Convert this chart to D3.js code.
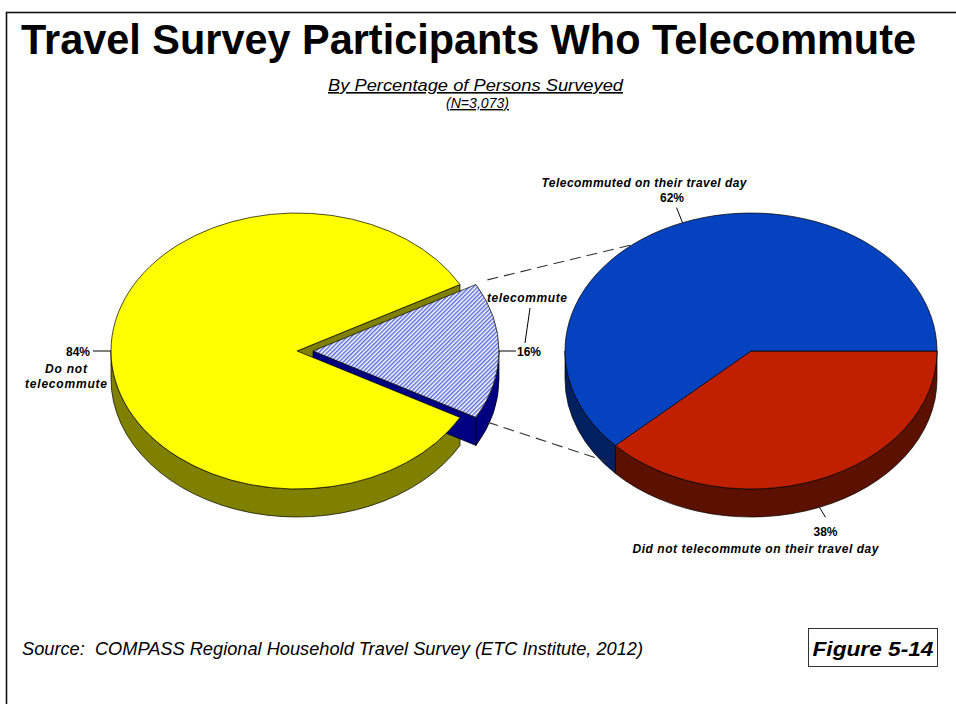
<!DOCTYPE html>
<html>
<head>
<meta charset="utf-8">
<script src="https://cdn.jsdelivr.net/npm/d3@7"></script>
<style>
  html, body { margin: 0; padding: 0; background: #fff; }
  svg { display: block; font-family: "Liberation Sans", Arial, sans-serif; }
</style>
</head>
<body>
<script>
// Survey shares: all respondents, split by whether they telecommute
const mainCategories = ["telecommute", "Do not telecommute"];
const mainValues = [16, 84];

// Telecommuters, split by whether they telecommuted on their travel day
const subCategories = ["Did not telecommute on their travel day", "Telecommuted on their travel day"];
const subValues = [38, 62];

const titleText = "Travel Survey Participants Who Telecommute";
const subtitleText = "By Percentage of Persons Surveyed";
const sampleText = "(N=3,073)";
const sourceText = "Source:  COMPASS Regional Household Travel Survey (ETC Institute, 2012)";
const figureText = "Figure 5-14";

const W = 956, H = 704;
const FONT = "'Liberation Sans', Arial, sans-serif";

const svg = d3.select("body").append("svg").attr("width", W).attr("height", H);

// diagonal blue hatching for the exploded wedge
const defs = svg.append("defs");
const hatch = defs.append("pattern")
  .attr("id", "hatch").attr("patternUnits", "userSpaceOnUse")
  .attr("width", 3).attr("height", 3).attr("patternTransform", "rotate(45)");
hatch.append("rect").attr("width", 3).attr("height", 3).attr("fill", "#ffffff");
hatch.append("line").attr("x1", 0.8).attr("y1", 0).attr("x2", 0.8).attr("y2", 3)
  .attr("stroke", "#3046d6").attr("stroke-width", 1.2);

// outer frame (runs off the right and bottom of the page)
svg.append("rect").attr("x", 6.5).attr("y", 12.5).attr("width", 1200).attr("height", 1200)
  .attr("fill", "none").attr("stroke", "#111").attr("stroke-width", 1.6);

// ---------- 3D pie helpers ----------
function geo(cx, cy, rx, ry, depth) {
  const pt = (t, k = 1, dy = 0) => [cx + k * rx * Math.cos(t), cy + k * ry * Math.sin(t) + dy];
  return { cx, cy, rx, ry, depth, pt };
}
function topPath(g, t0, t1) {
  const p0 = g.pt(t0), p1 = g.pt(t1);
  const large = (t1 - t0) > Math.PI ? 1 : 0;
  return `M${g.cx},${g.cy}L${p0}A${g.rx},${g.ry} 0 ${large} 1 ${p1}Z`;
}
function wallPaths(g, t0, t1) {
  const out = [];
  for (const k of [-2, 0, 2]) {
    const a = Math.max(t0, k * Math.PI), b = Math.min(t1, (k + 1) * Math.PI);
    if (b > a) {
      const p0 = g.pt(a), p1 = g.pt(b), q1 = g.pt(b, 1, g.depth), q0 = g.pt(a, 1, g.depth);
      out.push(`M${p0}A${g.rx},${g.ry} 0 0 1 ${p1}L${q1}A${g.rx},${g.ry} 0 0 0 ${q0}Z`);
    }
  }
  return out;
}
function facePath(g, t) {
  const p = g.pt(t), q = g.pt(t, 1, g.depth);
  return `M${g.cx},${g.cy}L${p}L${q}L${g.cx},${g.cy + g.depth}Z`;
}
// d3.pie measures from 12 o'clock; convert to screen angle from 3 o'clock
const toT = a => a - Math.PI / 2;

const RX = 186, RY = 138, DEPTH = 28;
const layer = svg.append("g");
const edge = { stroke: "#000", "stroke-width": 0.7, "stroke-linejoin": "round" };
function draw(d, fill) {
  const p = layer.append("path").attr("d", d).attr("fill", fill);
  Object.entries(edge).forEach(([k, v]) => p.attr(k, v));
  return p;
}

// ---------- left pie (exploded wedge) ----------
const mainTotal = d3.sum(mainValues);
const mainStart = Math.PI / 2 - Math.PI * mainValues[0] / mainTotal;
const mainPie = d3.pie().sort(null).value(d => d)
  .startAngle(mainStart).endAngle(mainStart + 2 * Math.PI);
const mainArcs = mainPie(mainValues);
const gA = geo(297, 351, RX, RY, DEPTH);
const explode = 16;
const wedge = mainArcs[0], rest = mainArcs[1];
const wMid = toT((wedge.startAngle + wedge.endAngle) / 2);
const gW = geo(gA.cx + explode * Math.cos(wMid), gA.cy + explode * Math.sin(wMid) * RY / RX, RX, RY, DEPTH);

const restT0 = toT(rest.startAngle), restT1 = toT(rest.endAngle);
const wT0 = toT(wedge.startAngle), wT1 = toT(wedge.endAngle);

// body walls
wallPaths(gA, restT0, restT1).forEach(d => draw(d, "#808000"));
if (Math.cos(restT1) > 0) draw(facePath(gA, restT1), "#808000");
if (Math.cos(restT0) < 0) draw(facePath(gA, restT0), "#808000");
// exploded wedge walls and top
if (Math.cos(wT1) > 0) draw(facePath(gW, wT1), "#000080");
if (Math.cos(wT0) < 0) draw(facePath(gW, wT0), "#000080");
wallPaths(gW, wT0, wT1).forEach(d => draw(d, "#000080"));
draw(topPath(gW, wT0, wT1), "url(#hatch)");
// body top
draw(topPath(gA, restT0, restT1), "#ffff00");

// ---------- right pie ----------
const subPie = d3.pie().sort(null).value(d => d)
  .startAngle(Math.PI / 2).endAngle(Math.PI / 2 + 2 * Math.PI);
const subArcs = subPie(subValues);
const gB = geo(751, 351, RX, RY, DEPTH);
const subTop = ["#c02000", "#0442c0"];
const subSide = ["#5c1000", "#002060"];
subArcs.forEach((a, i) => wallPaths(gB, toT(a.startAngle), toT(a.endAngle)).forEach(d => draw(d, subSide[i])));
subArcs.forEach((a, i) => draw(topPath(gB, toT(a.startAngle), toT(a.endAngle)), subTop[i]));

// ---------- dashed connectors between the pies ----------
const conn = svg.append("g").attr("stroke", "#333").attr("stroke-width", 1.1)
  .attr("stroke-dasharray", "11,6").attr("fill", "none");
const c1a = gW.pt(wT0, 1.07), c1b = gB.pt(toT(subArcs[1].startAngle) + 0.52 * Math.PI);
const c2a = gW.pt(wT1, 1.07), c2b = gB.pt(toT(subArcs[1].startAngle) + 0.05, 1, DEPTH - 6);
conn.append("line").attr("x1", c1a[0]).attr("y1", c1a[1]).attr("x2", c1b[0]).attr("y2", c1b[1]);
conn.append("line").attr("x1", c2a[0]).attr("y1", c2a[1]).attr("x2", c2b[0]).attr("y2", c2b[1]);

// ---------- labels ----------
const lab = svg.append("g").attr("font-family", FONT).attr("font-weight", "bold").attr("font-size", 12).attr("fill", "#000");
const lines = svg.append("g").attr("stroke", "#000").attr("stroke-width", 1);
function text(x, y, s, anchor, italic, len) {
  const t = lab.append("text").attr("x", x).attr("y", y).attr("text-anchor", anchor).text(s);
  if (italic) t.attr("font-style", "italic");
  if (len) t.attr("textLength", len).attr("lengthAdjust", "spacing");
  return t;
}
function seg(x1, y1, x2, y2) {
  lines.append("line").attr("x1", x1).attr("y1", y1).attr("x2", x2).attr("y2", y2);
}
const pct = v => `${v}%`;

// body slice label (left)
const aRest = gA.pt(toT((rest.startAngle + rest.endAngle) / 2));
seg(aRest[0], aRest[1], aRest[0] - 18, aRest[1]);
text(aRest[0] - 21, aRest[1] + 5, pct(mainValues[1]), "end", false);
const restWords = mainCategories[1].split(" ");
text(aRest[0] - 45, aRest[1] + 22, restWords.slice(0, 2).join(" "), "middle", true, 42);
text(aRest[0] - 45, aRest[1] + 37, restWords.slice(2).join(" "), "middle", true, 82);

// exploded wedge label
const aW = gW.pt(wMid);
seg(aW[0], aW[1], aW[0] + 17, aW[1]);
text(aW[0] + 18, aW[1] + 5, pct(mainValues[0]), "start", false);
text(aW[0] - 12, aW[1] - 49, mainCategories[0], "start", true, 80);
seg(aW[0] + 31, aW[1] - 43, aW[0] + 26, aW[1] - 8);

// right pie labels
const aBlue = gB.pt(toT((subArcs[1].startAngle + subArcs[1].endAngle) / 2));
seg(aBlue[0], aBlue[1], aBlue[0] - 6, aBlue[1] - 15);
text(aBlue[0] - 10.5, aBlue[1] - 21, pct(subValues[1]), "middle", false);
text(aBlue[0] - 38.5, aBlue[1] - 36, subCategories[1], "middle", true, 205);

const aRed = gB.pt(toT((subArcs[0].startAngle + subArcs[0].endAngle) / 2), 1, DEPTH);
seg(aRed[0], aRed[1], aRed[0] + 6, aRed[1] + 10);
text(aRed[0] + 6, aRed[1] + 29, pct(subValues[0]), "middle", false);
text(aRed[0] - 64, aRed[1] + 46, subCategories[0], "middle", true, 246);

// ---------- titles and notes ----------
svg.append("text").attr("x", 21).attr("y", 54).attr("font-family", FONT)
  .attr("font-weight", "bold").attr("font-size", 43)
  .attr("textLength", 895).attr("lengthAdjust", "spacingAndGlyphs").text(titleText);

svg.append("text").attr("x", 475.5).attr("y", 91).attr("text-anchor", "middle")
  .attr("font-family", FONT).attr("font-style", "italic").attr("font-size", 16)
  .attr("text-decoration", "underline")
  .attr("textLength", 295).attr("lengthAdjust", "spacingAndGlyphs").text(subtitleText);

svg.append("text").attr("x", 477.5).attr("y", 108).attr("text-anchor", "middle")
  .attr("font-family", FONT).attr("font-style", "italic").attr("font-size", 14)
  .attr("text-decoration", "underline")
  .attr("textLength", 63).attr("lengthAdjust", "spacingAndGlyphs").text(sampleText);

svg.append("text").attr("x", 22).attr("y", 655)
  .attr("font-family", FONT).attr("font-style", "italic").attr("font-size", 18.5)
  .style("white-space", "pre")
  .attr("textLength", 621).attr("lengthAdjust", "spacingAndGlyphs").text(sourceText);

svg.append("rect").attr("x", 808.5).attr("y", 628.5).attr("width", 129).attr("height", 38)
  .attr("fill", "#fff").attr("stroke", "#333").attr("stroke-width", 1);
svg.append("text").attr("x", 873).attr("y", 656).attr("text-anchor", "middle")
  .attr("font-family", FONT).attr("font-weight", "bold").attr("font-style", "italic").attr("font-size", 21)
  .attr("textLength", 121).attr("lengthAdjust", "spacingAndGlyphs").text(figureText);
</script>
</body>
</html>
